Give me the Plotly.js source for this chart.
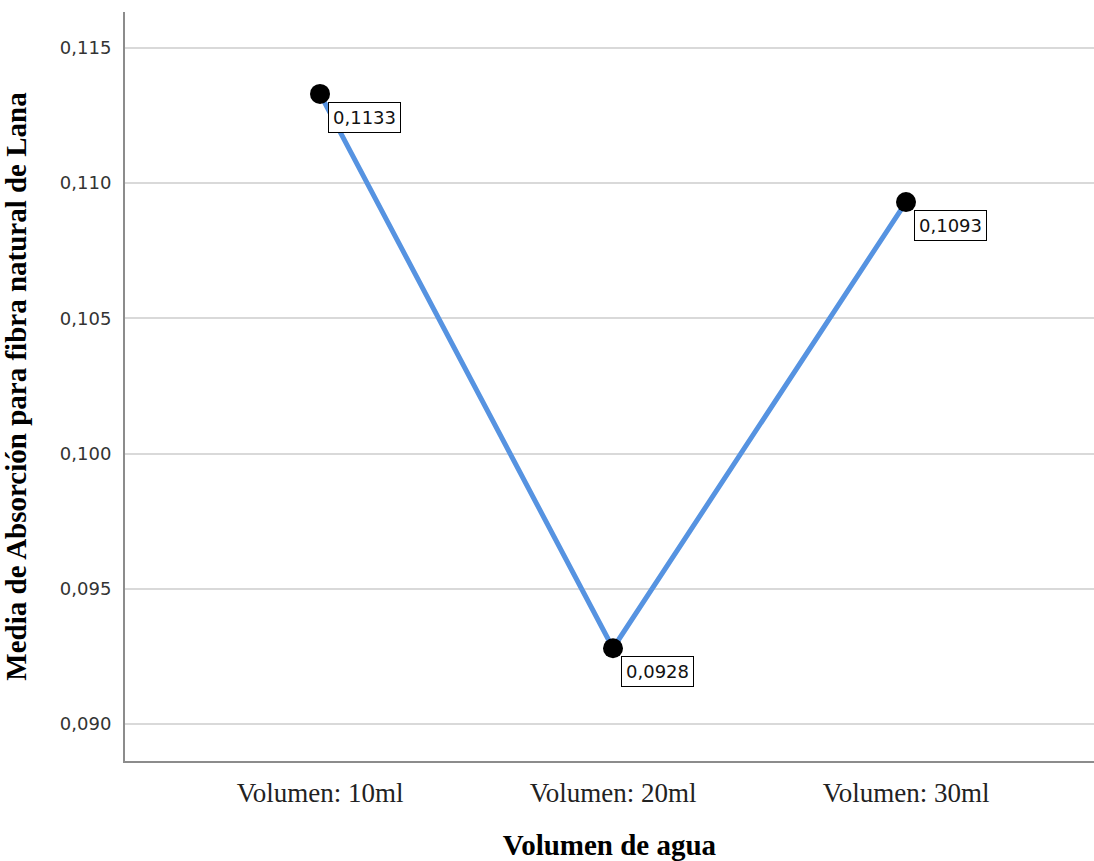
<!DOCTYPE html>
<html>
<head>
<meta charset="utf-8">
<script src="https://cdn.plot.ly/plotly-3.0.1.min.js"></script>
<style>html,body{margin:0;padding:0;background:#fff;}#chart{width:1094px;height:861px;}</style>
</head>
<body>
<div id="chart"></div>
<script>
const categories = ["Volumen: 10ml", "Volumen: 20ml", "Volumen: 30ml"];
const means = [0.1133, 0.0928, 0.1093];
const valueLabels = ["0,1133", "0,0928", "0,1093"];
const yTickVals = [0.090, 0.095, 0.100, 0.105, 0.110, 0.115];
const yTickText = ["0,090", "0,095", "0,100", "0,105", "0,110", "0,115"];

const trace = {
  x: categories,
  y: means,
  type: "scatter",
  mode: "lines+markers",
  line: {color: "#5693e1", width: 5},
  marker: {color: "#000000", size: 20},
  hoverinfo: "skip"
};

const annotations = categories.map((c, i) => ({
  x: c, y: means[i], xref: "x", yref: "y",
  text: valueLabels[i], showarrow: false,
  xanchor: "left", yanchor: "top",
  xshift: 8, yshift: -8,
  font: {family: "DejaVu Sans", size: 18, color: "#111"},
  bgcolor: "#ffffff", bordercolor: "#000000", borderwidth: 1, borderpad: 4
}));

const layout = {
  width: 1094, height: 861,
  margin: {l: 125, r: 0, t: 12, b: 100},
  paper_bgcolor: "#ffffff", plot_bgcolor: "#ffffff",
  showlegend: false,
  separators: ", ",
  xaxis: {
    type: "category",
    range: [-0.6655, 2.6416],
    showgrid: false, zeroline: false,
    showline: true, linecolor: "#8c8c8c", linewidth: 2,
    ticks: "",
    ticklabelstandoff: 7,
    tickfont: {family: "Liberation Serif", size: 27, color: "#222"},
    title: {text: "Volumen de agua", font: {family: "Liberation Serif", size: 29, color: "#000", weight: "bold"}, standoff: 28},
    fixedrange: true
  },
  yaxis: {
    range: [0.08863, 0.11633],
    tickvals: yTickVals, ticktext: yTickText,
    showgrid: true, gridcolor: "#d9d9d9", gridwidth: 2,
    zeroline: false,
    showline: true, linecolor: "#8c8c8c", linewidth: 2,
    ticks: "",
    ticklabelstandoff: 8,
    tickfont: {family: "DejaVu Sans", size: 18, color: "#333"},
    title: {text: "Media de Absorción para fibra natural de Lana", font: {family: "Liberation Serif", size: 29, color: "#000", weight: "bold"}, standoff: 26},
    fixedrange: true
  },
  annotations: annotations
};

Plotly.newPlot("chart", [trace], layout, {displayModeBar: false, staticPlot: true});
</script>
</body>
</html>
